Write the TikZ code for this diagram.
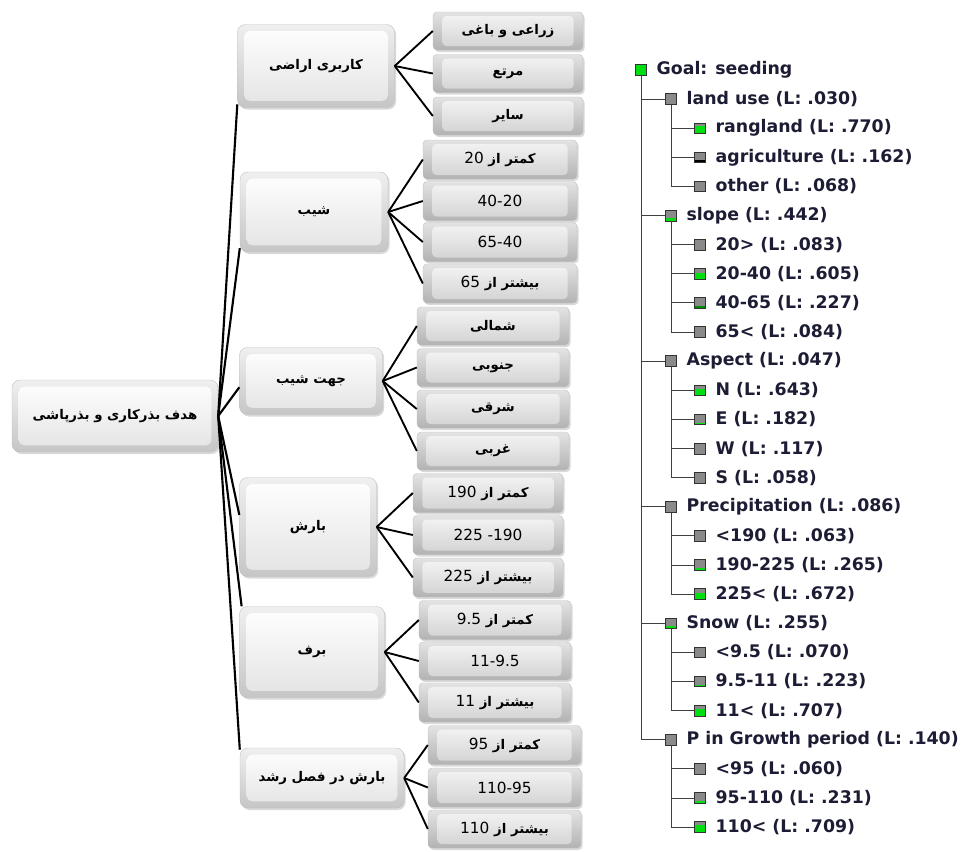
\documentclass[tikz,border=0pt]{standalone}
\usepackage{fontspec}
\usetikzlibrary{shadows}
\TeXXeTstate=1
\newfontfamily\arabicfont[Script=Arabic]{DejaVu Sans}
\newfontfamily\treefont{DejaVu Sans}
\definecolor{sqgreen}{HTML}{00E010}
\definecolor{txtc}{HTML}{1C1C34}
\definecolor{sqgray}{HTML}{8A8A8A}
\newcommand\rtltext[1]{{\bfseries\beginR #1\endR}}
\newcommand\ltrnum[1]{\beginL{\mdseries\treefont\fontsize{11.5}{13}\selectfont #1}\endL{}}
\newcommand\numtext[1]{{\treefont\fontsize{11.5}{13}\selectfont #1}}
\begin{document}
\begin{tikzpicture}[x=0.75pt,y=-0.75pt,
  wh/.style 2 args={minimum width=#1*0.75pt, minimum height=#2*0.75pt},
  bigbox/.style={rounded corners=6pt, draw=gray!50, line width=0.3pt,
    top color=gray!12, bottom color=gray!45,
    drop shadow={shadow xshift=1.2pt, shadow yshift=-1.5pt, opacity=0.3},
    inner sep=0pt, font=\arabicfont\fontsize{10}{12}\selectfont,
    path picture={\shade[top color=white, bottom color=gray!22, rounded corners=4pt]
      ([shift={(5pt,-5pt)}]path picture bounding box.north west) rectangle
      ([shift={(-5pt,5pt)}]path picture bounding box.south east);}},
  smallbox/.style={bigbox, rounded corners=3pt, top color=gray!22, bottom color=gray!60,
    path picture={\shade[top color=gray!8, bottom color=gray!36]
      ([shift={(7pt,-3pt)}]path picture bounding box.north west) rectangle
      ([shift={(-7pt,3pt)}]path picture bounding box.south east);}},
  trunk/.style={line width=1.6pt, black},
  fan/.style={line width=1.4pt, black},
  sqc/.store in=\sqc, sqc=sqgreen,
  sq/.style={draw=black!80, line width=0.6pt, fill=sqgray,
    minimum width=8.5pt, minimum height=8pt, inner sep=0pt,
    path picture={\fill[\sqc] (path picture bounding box.south west) rectangle
      ([yshift=#1*8pt]path picture bounding box.south east);}},
  sq/.default=0,
  lbl/.style={font=\treefont\bfseries\fontsize{13}{15}\selectfont, text=txtc,
    inner sep=0pt, anchor=west},
  tl/.style={draw=black!75, line width=0.75pt}
]
\useasboundingbox (0,0) rectangle (964,851);

% ---------------- left hierarchy ----------------
\node[bigbox, wh={206}{72}] (root) at (115,416) {\rtltext{هدف بذرکاری و بذرپاشی}};

\node[bigbox, wh={157}{83}] (a) at (316,66) {\rtltext{کاربری اراضی}};
\node[bigbox, wh={148}{80}] (b) at (314,212) {\rtltext{شیب}};
\node[bigbox, wh={143}{67}] (c) at (311,381) {\rtltext{جهت شیب}};
\node[bigbox, wh={137}{99}] (d) at (308,527) {\rtltext{بارش}};
\node[bigbox, wh={145}{91}] (e) at (312,652) {\rtltext{برف}};
\node[bigbox, wh={164}{60}] (f) at (322,778) {\rtltext{بارش در فصل رشد}};

\node[smallbox, wh={150}{38}] (a1) at (508,31) {\rtltext{زراعی و باغی}};
\node[smallbox, wh={150}{38}] (a2) at (508,73.5) {\rtltext{مرتع}};
\node[smallbox, wh={150}{38}] (a3) at (508,116) {\rtltext{سایر}};

\node[smallbox, wh={154}{39}] (b1) at (500,159.5) {\rtltext{کمتر از \ltrnum{20}}};
\node[smallbox, wh={154}{39}] (b2) at (500,201) {\numtext{40-20}};
\node[smallbox, wh={154}{39}] (b3) at (500,242) {\numtext{65-40}};
\node[smallbox, wh={154}{39}] (b4) at (500,283.5) {\rtltext{بیشتر از \ltrnum{65}}};

\node[smallbox, wh={152}{38}] (c1) at (493,326) {\rtltext{شمالی}};
\node[smallbox, wh={152}{38}] (c2) at (493,367.5) {\rtltext{جنوبی}};
\node[smallbox, wh={152}{38}] (c3) at (493,409) {\rtltext{شرقی}};
\node[smallbox, wh={152}{38}] (c4) at (493,451) {\rtltext{غربی}};

\node[smallbox, wh={150}{39}] (d1) at (488,493) {\rtltext{کمتر از \ltrnum{190}}};
\node[smallbox, wh={150}{39}] (d2) at (488,535) {\numtext{225 -190}};
\node[smallbox, wh={150}{39}] (d3) at (488,577.5) {\rtltext{بیشتر از \ltrnum{225}}};

\node[smallbox, wh={152}{39}] (e1) at (495,620) {\rtltext{کمتر از \ltrnum{9.5}}};
\node[smallbox, wh={152}{38}] (e2) at (495,661) {\numtext{11-9.5}};
\node[smallbox, wh={152}{39}] (e3) at (495,702.5) {\rtltext{بیشتر از \ltrnum{11}}};

\node[smallbox, wh={153}{39}] (f1) at (504.5,745) {\rtltext{کمتر از \ltrnum{95}}};
\node[smallbox, wh={153}{39}] (f2) at (504.5,787.5) {\numtext{110-95}};
\node[smallbox, wh={153}{38}] (f3) at (504.5,829) {\rtltext{بیشتر از \ltrnum{110}}};

\draw[trunk] (root.east) -- (a.206);
\draw[trunk] (root.east) -- (b.206);
\draw[trunk] (root.east) -- (c.185);
\draw[trunk] (root.east) -- (d.170);
\draw[trunk] (root.east) -- (e.147);
\draw[trunk] (root.east) -- (f.161);

\foreach \t in {a1,a2,a3} \draw[fan] (a.east) -- (\t.west);
\foreach \t in {b1,b2,b3,b4} \draw[fan] (b.east) -- (\t.west);
\foreach \t in {c1,c2,c3,c4} \draw[fan] (c.east) -- (\t.west);
\foreach \t in {d1,d2,d3} \draw[fan] (d.east) -- (\t.west);
\foreach \t in {e1,e2,e3} \draw[fan] (e.east) -- (\t.west);
\foreach \t in {f1,f2,f3} \draw[fan] (f.east) -- (\t.west);

% ---------------- right tree ----------------
\node[sq=1] (r0) at (641,70) {};
\node[sq] (r1) at (671,{70+29.12*1}) {};
\node[sq=0.75] (r2) at (700,{70+29.12*2}) {};
\node[sq=0.3, sqc=black] (r3) at (700,{70+29.12*3}) {};
\node[sq] (r4) at (700,{70+29.12*4}) {};
\node[sq=0.3] (r5) at (671,{70+29.12*5}) {};
\node[sq] (r6) at (700,{70+29.12*6}) {};
\node[sq=0.55] (r7) at (700,{70+29.12*7}) {};
\node[sq=0.22, sqc=green!55!black] (r8) at (700,{70+29.12*8}) {};
\node[sq] (r9) at (700,{70+29.12*9}) {};
\node[sq] (r10) at (671,{70+29.12*10}) {};
\node[sq=0.6] (r11) at (700,{70+29.12*11}) {};
\node[sq=0.2] (r12) at (700,{70+29.12*12}) {};
\node[sq] (r13) at (700,{70+29.12*13}) {};
\node[sq] (r14) at (700,{70+29.12*14}) {};
\node[sq] (r15) at (671,{70+29.12*15}) {};
\node[sq] (r16) at (700,{70+29.12*16}) {};
\node[sq=0.2] (r17) at (700,{70+29.12*17}) {};
\node[sq=0.65] (r18) at (700,{70+29.12*18}) {};
\node[sq=0.25] (r19) at (671,{70+29.12*19}) {};
\node[sq] (r20) at (700,{70+29.12*20}) {};
\node[sq=0.2] (r21) at (700,{70+29.12*21}) {};
\node[sq=0.7] (r22) at (700,{70+29.12*22}) {};
\node[sq] (r23) at (671,{70+29.12*23}) {};
\node[sq] (r24) at (700,{70+29.12*24}) {};
\node[sq=0.2] (r25) at (700,{70+29.12*25}) {};
\node[sq=0.7] (r26) at (700,{70+29.12*26}) {};

\node[lbl] (t0) at ([xshift=7pt]r0.east) {Goal: seeding};
\node[lbl] (t1) at ([xshift=7pt]r1.east) {land use (L: .030)};
\node[lbl] (t2) at ([xshift=7pt]r2.east) {rangland (L: .770)};
\node[lbl] (t3) at ([xshift=7pt]r3.east) {agriculture (L: .162)};
\node[lbl] (t4) at ([xshift=7pt]r4.east) {other (L: .068)};
\node[lbl] (t5) at ([xshift=7pt]r5.east) {slope (L: .442)};
\node[lbl] (t6) at ([xshift=7pt]r6.east) {20> (L: .083)};
\node[lbl] (t7) at ([xshift=7pt]r7.east) {20-40 (L: .605)};
\node[lbl] (t8) at ([xshift=7pt]r8.east) {40-65 (L: .227)};
\node[lbl] (t9) at ([xshift=7pt]r9.east) {65< (L: .084)};
\node[lbl] (t10) at ([xshift=7pt]r10.east) {Aspect (L: .047)};
\node[lbl] (t11) at ([xshift=7pt]r11.east) {N (L: .643)};
\node[lbl] (t12) at ([xshift=7pt]r12.east) {E (L: .182)};
\node[lbl] (t13) at ([xshift=7pt]r13.east) {W (L: .117)};
\node[lbl] (t14) at ([xshift=7pt]r14.east) {S (L: .058)};
\node[lbl] (t15) at ([xshift=7pt]r15.east) {Precipitation (L: .086)};
\node[lbl] (t16) at ([xshift=7pt]r16.east) {<190 (L: .063)};
\node[lbl] (t17) at ([xshift=7pt]r17.east) {190-225 (L: .265)};
\node[lbl] (t18) at ([xshift=7pt]r18.east) {225< (L: .672)};
\node[lbl] (t19) at ([xshift=7pt]r19.east) {Snow (L: .255)};
\node[lbl] (t20) at ([xshift=7pt]r20.east) {<9.5 (L: .070)};
\node[lbl] (t21) at ([xshift=7pt]r21.east) {9.5-11 (L: .223)};
\node[lbl] (t22) at ([xshift=7pt]r22.east) {11< (L: .707)};
\node[lbl] (t23) at ([xshift=7pt]r23.east) {P in Growth period (L: .140)};
\node[lbl] (t24) at ([xshift=7pt]r24.east) {<95 (L: .060)};
\node[lbl] (t25) at ([xshift=7pt]r25.east) {95-110 (L: .231)};
\node[lbl] (t26) at ([xshift=7pt]r26.east) {110< (L: .709)};

\foreach \p/\c in {0/1,0/5,0/10,0/15,0/19,0/23,
  1/2,1/3,1/4, 5/6,5/7,5/8,5/9, 10/11,10/12,10/13,10/14,
  15/16,15/17,15/18, 19/20,19/21,19/22, 23/24,23/25,23/26}
  \draw[tl] (r\p.south) |- (r\c.west);
\end{tikzpicture}
\end{document}
